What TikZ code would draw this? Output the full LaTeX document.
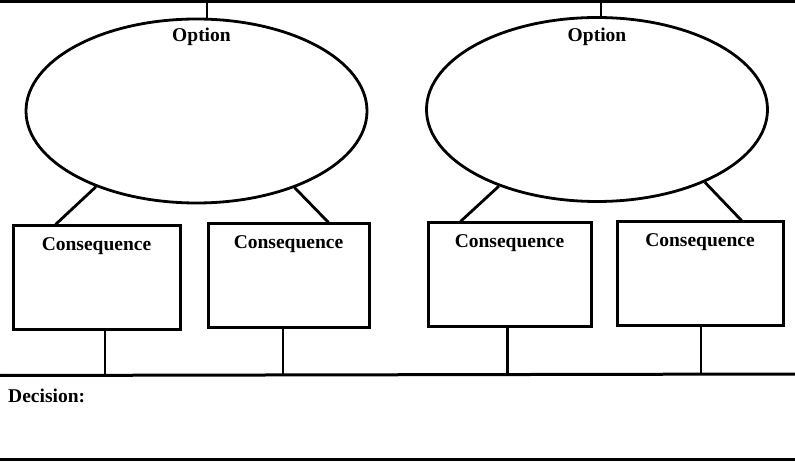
\documentclass[tikz,border=0pt]{standalone}
\usepackage{fontspec}
\setmainfont{Liberation Serif}
\usetikzlibrary{shapes.geometric}
\tikzset{
  optshape/.style={draw, ellipse, line width=2.8pt, inner sep=0pt, minimum width=341pt, minimum height=184pt},
  consbox/.style={draw, rectangle, line width=3pt, inner sep=0pt, minimum height=103pt},
  lbl/.style={font=\fontsize{19.5}{22}\selectfont\bfseries, inner sep=0pt, anchor=base},
  wire/.style={line width=2.8pt},
  rule/.style={line width=3pt}
}
\begin{document}
\begin{tikzpicture}[x=1pt, y=-1pt]
\useasboundingbox (0,0) rectangle (795,462);
% frame rules
\coordinate (topL) at (0,1.5);
\coordinate (topR) at (795,1.5);
\coordinate (midL) at (0,375.5);
\coordinate (midR) at (795,374);
\coordinate (botL) at (0,459.5);
\coordinate (botR) at (795,459.5);
\draw[rule] (topL) -- (topR);
\draw[rule] (midL) -- (midR);
\draw[rule] (botL) -- (botR);
% options
\node[optshape] (e1) at (196.5,111) {};
\node[optshape] (e2) at (597,109.5) {};
\node[lbl] (t1) at ([xshift=5pt,yshift=-24pt]e1.north) {Option};
\node[lbl] (t2) at ([yshift=-25pt]e2.north) {Option};
\draw[wire] ([xshift=10.5pt]e1.north) -- ([xshift=10.5pt]e1.north |- topL);
\draw[wire] ([xshift=4pt]e2.north) -- ([xshift=4pt]e2.north |- topL);
% consequences
\node[consbox, minimum width=167pt] (b1) at (96.5,277.5) {};
\node[consbox, minimum width=161pt] (b2) at (288.5,275.5) {};
\node[consbox, minimum width=163pt] (b3) at (509.5,274.5) {};
\node[consbox, minimum width=166pt] (b4) at (700,273.5) {};
\node[lbl] (c1) at ([yshift=-26pt]b1.north) {Consequence};
\node[lbl] (c2) at ([yshift=-26pt]b2.north) {Consequence};
\node[lbl] (c3) at ([yshift=-26pt]b3.north) {Consequence};
\node[lbl] (c4) at ([yshift=-26pt]b4.north) {Consequence};
% option to consequence links
\draw[wire] (e1.217) -- ([xshift=44pt]b1.north west);
\draw[wire] (e1.322) -- ([xshift=122pt]b2.north west);
\draw[wire] (e2.218) -- ([xshift=34pt]b3.north west);
\draw[wire] (e2.326) -- ([xshift=126pt]b4.north west);
% consequence to decision line
\draw[wire] ([xshift=8.5pt]b1.south) -- ([xshift=8.5pt]b1.south |- midL);
\draw[wire] ([xshift=-5.5pt]b2.south) -- ([xshift=-5.5pt]b2.south |- midL);
\draw[wire] ([xshift=-2pt]b3.south) -- ([xshift=-2pt]b3.south |- midL);
\draw[wire] ([xshift=1pt]b4.south) -- ([xshift=1pt]b4.south |- midR);
% decision
\node[lbl, anchor=base west] (dec) at (8,402) {Decision:};
\end{tikzpicture}
\end{document}
